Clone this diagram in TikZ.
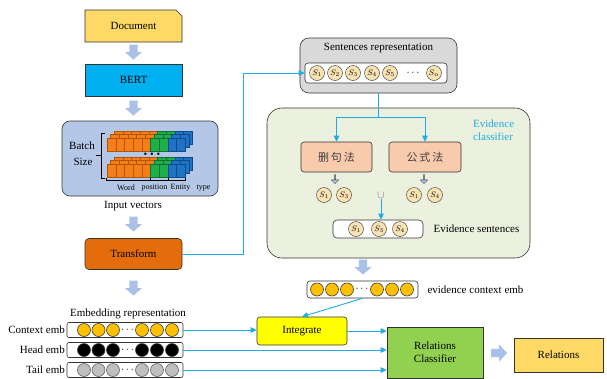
\documentclass[tikz,border=0pt]{standalone}
\usepackage{fontspec}
\setmainfont{Liberation Serif}
\newfontfamily\cjk{Noto Sans CJK SC}
\usetikzlibrary{arrows.meta,shapes.arrows,calc}
\definecolor{cy}{HTML}{1DADE4}
\definecolor{barrowc}{HTML}{A9C1E6}
\definecolor{docc}{HTML}{FFD966}
\definecolor{bertc}{HTML}{00B0F0}
\definecolor{batchc}{HTML}{B4C7E7}
\definecolor{transc}{HTML}{E46C0A}
\definecolor{sentc}{HTML}{D9D9D9}
\definecolor{evc}{HTML}{EBF1DE}
\definecolor{peach}{HTML}{F8CBAD}
\definecolor{scol}{HTML}{FAE3B2}
\definecolor{ctxc}{HTML}{FFC000}
\definecolor{tailc}{HTML}{BFBFBF}
\definecolor{intc}{HTML}{FFFF00}
\definecolor{rcc}{HTML}{92D050}
\definecolor{relc}{HTML}{FFD966}
\definecolor{orng}{HTML}{F47E17}
\definecolor{orngd}{HTML}{B35500}
\definecolor{grn}{HTML}{1FAF4A}
\definecolor{grnd}{HTML}{0E7030}
\definecolor{blu}{HTML}{1E73C4}
\definecolor{blud}{HTML}{0C4A8A}
\tikzset{
  box/.style={draw=black!80, line width=0.6pt, inner sep=0pt, align=center},
  cline/.style={draw=cy, line width=0.9pt},
  carrow/.style={cline, -{Triangle[length=6pt,width=5.5pt]}},
  pics/blockdown/.style={code={
    \fill[barrowc] (-4.2,-7.5) -- (4.2,-7.5) -- (4.2,0) -- (8.7,0) -- (0,7.5) -- (-8.7,0) -- (-4.2,0) -- cycle;}},
  pics/blockright/.style={code={
    \fill[barrowc] (-8,-4.2) -- (0,-4.2) -- (0,-8.7) -- (8,0) -- (0,8.7) -- (0,4.2) -- (-8,4.2) -- cycle;}},
  sarrow/.style={single arrow, fill=barrowc, draw=black!70, line width=0.4pt,
    minimum width=7.5pt, single arrow head extend=2pt, single arrow head indent=0pt,
    minimum height=9pt, inner sep=0pt, shape border rotate=270},
  sdot/.style={circle, draw=black!70, line width=0.5pt, fill=scol, minimum size=15pt,
    inner sep=0pt, font=\fontsize{8}{8}\selectfont},
  edot/.style={circle, draw=black!75, line width=0.6pt, minimum size=13pt, inner sep=0pt},
  rowbox/.style={draw=black!80, line width=0.6pt, fill=white, rounded corners=2pt,
    inner sep=0pt},
  small/.style={font=\fontsize{8}{9}\selectfont, inner sep=0pt},
}
\begin{document}
\begin{tikzpicture}[x=1pt,y=-1pt, font=\fontsize{11}{13}\selectfont]
\useasboundingbox (0,0) rectangle (607,378);

% ---------- left column ----------
\path[draw=black!80, line width=0.6pt, fill=docc] (85,10) -- (176,10) -- (182,16) -- (182,42) -- (85,42) -- cycle;
\node (doc) at (133.5,26) {Document};
\pic (a1) at (133.5,52) {blockdown};
\node[box, fill=bertc, minimum width=97pt, minimum height=32pt] (bert) at (133.5,80) {BERT};
\pic (a2) at (133.5,108) {blockdown};

\node[box, fill=batchc, rounded corners=8pt, minimum width=156pt, minimum height=75pt] (batch) at (140,158.5) {};
% vector stacks
\foreach \gy in {151,177} {
  \foreach \layer in {2,1,0} {
    \foreach \i in {0,...,8} {
      \ifnum\i<5 \def\cc{orng}\def\cd{orngd}\else\ifnum\i<7 \def\cc{grn}\def\cd{grnd}\else\def\cc{blu}\def\cd{blud}\fi\fi
      \path[fill=\cc, draw=\cd, line width=0.35pt] ({107+8.7*\i+3.5*\layer},{\gy-3.5*\layer}) rectangle ++(8.7,-13);
    }
  }
}
\node[font=\fontsize{5}{5}\selectfont, inner sep=0pt] (vdots) at (152,154.5) {$\bullet\,\bullet\,\bullet$};
\draw[line width=0.5pt] (104.5,133) -- (101,133) -- (101,178) -- (104.5,178);
\draw[line width=0.5pt] (101,155.5) -- (96,155.5);
\node (bl1) at (82,146) {Batch};
\node (bl2) at (83,162) {Size};
\draw[line width=0.5pt] (106,180.5) -- (185,180.5);
\foreach \x in {106,150,168,185} \draw[line width=0.5pt] (\x,178) -- (\x,180.5);
\node[small] (w1) at (126,188) {Word};
\node[small] (w2) at (154.5,188) {position};
\node[small] (w3) at (180.5,188) {Entity};
\node[small] (w4) at (203.5,188) {type};

\node (inv) at (133,206) {Input vectors};
\pic (a3) at (133.5,224) {blockdown};
\node[box, fill=transc, rounded corners=4pt, minimum width=97pt, minimum height=31pt] (trans) at (133.5,254) {Transform};
\pic (a4) at (133.5,288) {blockdown};

% ---------- embedding rows ----------
\node (embl) at (128,314) {Embedding representation};
\node[rowbox, minimum width=116pt, minimum height=15pt] (ctx) at (125,330) {};
\node[rowbox, minimum width=116pt, minimum height=15pt] (head) at (125,350) {};
\node[rowbox, minimum width=116pt, minimum height=15pt] (tail) at (125,370) {};
\foreach \x [count=\i] in {84,98.5,113,142,157,172} {
  \node[edot, fill=ctxc] (cc\i) at (\x,330) {};
  \node[edot, fill=black] (hc\i) at (\x,350) {};
  \node[edot, fill=tailc, draw=black!60] (tc\i) at (\x,370) {};
}
\node[inner sep=0pt] (cd) at (127.5,330) {$\cdots$};
\node[inner sep=0pt] (hd) at (127.5,350) {$\cdots$};
\node[inner sep=0pt] (td) at (127.5,370) {$\cdots$};
\node[anchor=east, inner sep=1pt] (ctxl) at (66,330) {Context emb};
\node[anchor=east, inner sep=1pt] (headl) at (66,350) {Head emb};
\node[anchor=east, inner sep=1pt] (taill) at (66,370) {Tail emb};

% ---------- sentences representation ----------
\node[box, fill=sentc, rounded corners=9pt, minimum width=157pt, minimum height=55pt] (sent) at (378.5,65.5) {};
\node (sentl) at (378.5,48) {Sentences representation};
\node[rowbox, rounded corners=3pt, minimum width=142pt, minimum height=20pt] (srow) at (376,73) {};
\foreach \x/\k [count=\i] in {317/1,335/2,353/3,372/4,390/5,434/n}
  \node[sdot] (s\i) at (\x,73) {$S_{\k}$};
\node[inner sep=0pt] (sdots) at (413,73) {$\cdots$};

% ---------- evidence classifier ----------
\node[box, fill=evc, rounded corners=15pt, minimum width=263pt, minimum height=150pt] (ev) at (398.5,183) {};
\node[anchor=west, align=left, text=cy, inner sep=0pt] (evl) at (473,130) {Evidence\\classifier};
\node[box, fill=peach, rounded corners=3pt, minimum width=71pt, minimum height=30pt, text=black!75] (shan) at (336.5,157) {\cjk 删\,句\,法};
\node[box, fill=peach, rounded corners=3pt, minimum width=72pt, minimum height=30pt, text=black!75] (gong) at (425,157) {\cjk 公\,式\,法};
\node[sarrow] (sa1) at (335,179) {};
\node[sarrow] (sa2) at (424,179) {};
\node[sdot] (e1) at (324,195) {$S_1$};
\node[sdot] (e2) at (344,195) {$S_3$};
\node[text=black!55, inner sep=1pt] (uni) at (381,195) {$\cup$};
\node[sdot] (e3) at (414,195) {$S_1$};
\node[sdot] (e4) at (435,195) {$S_4$};
\node[rowbox, rounded corners=4pt, minimum width=90pt, minimum height=18pt] (evs) at (378,229) {};
\node[sdot] (v1) at (356,229) {$S_1$};
\node[sdot] (v2) at (379,229) {$S_3$};
\node[sdot] (v3) at (400,229) {$S_4$};
\node[anchor=west] (evsl) at (430,229) {Evidence sentences};

\pic (a5) at (363,267) {blockdown};

% ---------- evidence context emb ----------
\node[rowbox, rounded corners=3pt, minimum width=111pt, minimum height=17pt] (evx) at (362.5,289.5) {};
\foreach \x [count=\i] in {317,332,347,377,392,407}
  \node[edot, fill=ctxc] (xc\i) at (\x,289.5) {};
\node[inner sep=0pt] (xd) at (362,289.5) {$\cdots$};
\node[anchor=west] (evxl) at (424,290) {evidence context emb};

% ---------- right bottom ----------
\node[box, fill=intc, rounded corners=3pt, minimum width=90pt, minimum height=28pt] (int) at (302,331) {Integrate};
\node[box, fill=rcc, minimum width=96pt, minimum height=51pt] (rc) at (435,352.5) {Relations\\Classifier};
\pic (a6) at (499,353) {blockright};
\node[box, fill=relc, minimum width=89pt, minimum height=34pt] (rel) at (558.5,355) {Relations};

% ---------- connectors ----------
\draw[carrow] (trans.east) -- ++(61,0) |- (srow.west);
\draw[cline] (sent.south) -- (378.5,117) coordinate (br);
\draw[carrow] (br) -| (shan.north);
\draw[carrow] (br) -| (gong.north);
\draw[carrow] (uni.south) -- (uni.south |- evs.north);
\draw[carrow] (evx.south) -- (int.north);
\draw[carrow] (ctx.east) -- (ctx.east -| int.west);
\draw[carrow] (int.east) -- (int.east -| rc.west);
\draw[carrow] (head.east) -- (head.east -| rc.west);
\draw[carrow] (tail.east) -- (tail.east -| rc.west);
\end{tikzpicture}
\end{document}
